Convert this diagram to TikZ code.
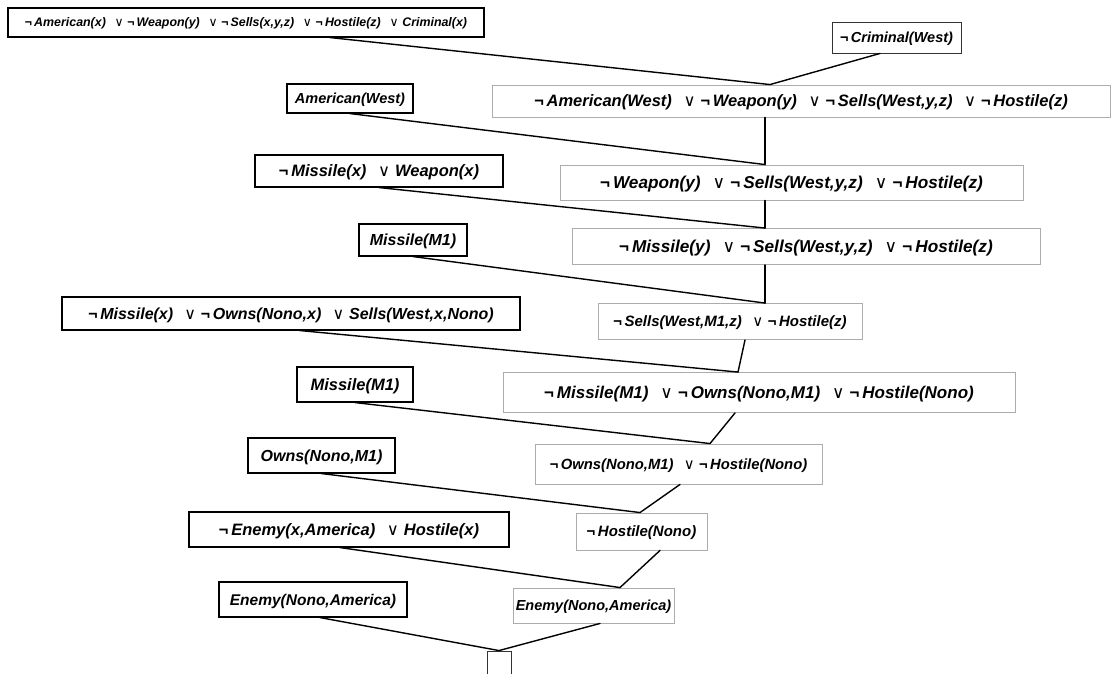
\documentclass[tikz,border=0pt]{standalone}
\usepackage{fontspec}
\setmainfont{Liberation Sans}
\newfontfamily\symfont{DejaVu Sans}
\usepackage{tikz}
\usetikzlibrary{positioning}
\newcommand{\notsym}{¬\,}
\newcommand{\orsym}{\hspace{0.7em}{\symfont\upshape\mdseries ∨}\hspace{0.3em}}

\begin{document}
\begin{tikzpicture}[
  x=1pt, y=-1pt,
  fs/.code={\pgfmathsetmacro\clht{0.9*#1}\pgfmathsetmacro\cldp{0.18*#1}%
    \tikzset{font=\fontsize{#1}{#1}\selectfont\bfseries\itshape,
             text height=\clht pt, text depth=\cldp pt}},
  clause/.style={draw, line width=1.1pt, inner sep=2pt},
  fact/.style={clause, draw=black},
  resolvent/.style={clause, draw=gray!65, line width=0.9pt},
  edge/.style={line width=1.4pt, line cap=round},
]
\useasboundingbox (0,0) rectangle (1115,673);

%% Left column: rules and facts
\node[fact, fs=12.4, minimum width=476, minimum height=29] (rule) at (246,22.5)
  {\notsym American(x)\orsym\notsym Weapon(y)\orsym\notsym Sells(x,y,z)\orsym\notsym Hostile(z)\orsym Criminal(x)};
\node[fact, fs=14.5, minimum width=126, minimum height=29] (amer) at (350,98.5) {American(West)};
\node[fact, fs=16.5, minimum width=248, minimum height=32] (weap) at (379,171) {\notsym Missile(x)\orsym Weapon(x)};
\node[fact, fs=16, minimum width=108, minimum height=32] (missA) at (413,240) {Missile(M1)};
\node[fact, fs=16, minimum width=458, minimum height=33] (sells) at (291,313.5)
  {\notsym Missile(x)\orsym\notsym Owns(Nono,x)\orsym Sells(West,x,Nono)};
\node[fact, fs=16.5, minimum width=116, minimum height=35] (missB) at (355,384.5) {Missile(M1)};
\node[fact, fs=16, minimum width=147, minimum height=35] (owns) at (321.5,455.5) {Owns(Nono,M1)};
\node[fact, fs=16.5, minimum width=320, minimum height=35] (enemyrule) at (349,529.5) {\notsym Enemy(x,America)\orsym Hostile(x)};
\node[fact, fs=15.5, minimum width=188, minimum height=35] (enemy) at (313,599.5) {Enemy(Nono,America)};

%% Goal
\node[resolvent, draw=black!80, fs=14.5, minimum width=129, minimum height=31] (goal) at (896.5,37.5) {\notsym Criminal(West)};

%% Right column: resolvents
\node[resolvent, fs=16.5, minimum width=618, minimum height=32] (res1) at (801,101)
  {\notsym American(West)\orsym\notsym Weapon(y)\orsym\notsym Sells(West,y,z)\orsym\notsym Hostile(z)};
\node[resolvent, fs=17.2, minimum width=463, minimum height=35] (res2) at (791.5,182.5)
  {\notsym Weapon(y)\orsym\notsym Sells(West,y,z)\orsym\notsym Hostile(z)};
\node[resolvent, fs=17.2, minimum width=468, minimum height=36] (res3) at (806,246.5)
  {\notsym Missile(y)\orsym\notsym Sells(West,y,z)\orsym\notsym Hostile(z)};
\node[resolvent, fs=15, minimum width=264, minimum height=36] (res4) at (730,321.5)
  {\notsym Sells(West,M1,z)\orsym\notsym Hostile(z)};
\node[resolvent, fs=17, minimum width=512, minimum height=40] (res5) at (759,392.5)
  {\notsym Missile(M1)\orsym\notsym Owns(Nono,M1)\orsym\notsym Hostile(Nono)};
\node[resolvent, fs=14.8, minimum width=287, minimum height=40] (res6) at (678.5,464)
  {\notsym Owns(Nono,M1)\orsym\notsym Hostile(Nono)};
\node[resolvent, fs=15, minimum width=131, minimum height=37] (res7) at (641.5,531.5) {\notsym Hostile(Nono)};
\node[resolvent, fs=14.5, minimum width=161, minimum height=35] (res8) at (593.5,605.5) {Enemy(Nono,America)};

%% Empty clause
\node[resolvent, draw=black!80, minimum width=24, minimum height=44] (empty) at (499,673) {};

%% Join points
\coordinate (j1) at ([xshift=-31]res1.north);
\coordinate (j2) at ([xshift=-26.5]res2.north);
\coordinate (j3) at ([xshift=-41]res3.north);
\coordinate (j4) at ([xshift=35]res4.north);
\coordinate (j5) at ([xshift=-21]res5.north);
\coordinate (j6) at ([xshift=31.5]res6.north);
\coordinate (j7) at ([xshift=-1.5]res7.north);
\coordinate (j8) at ([xshift=26.5]res8.north);
\coordinate (j9) at (empty.north);

%% Resolution steps
\draw[edge] ([xshift=84]rule.south) -- (j1);
\draw[edge] ([xshift=-16.5]goal.south) -- (j1);
\draw[edge] (amer.south) -- (j2);
\draw[edge] ([xshift=-36]res1.south) -- (j2);
\draw[edge] (weap.south) -- (j3);
\draw[edge] ([xshift=-26.5]res2.south) -- (j3);
\draw[edge] (missA.south) -- (j4);
\draw[edge] ([xshift=-41]res3.south) -- (j4);
\draw[edge] ([xshift=9]sells.south) -- (j5);
\draw[edge] ([xshift=15]res4.south) -- (j5);
\draw[edge] (missB.south) -- (j6);
\draw[edge] ([xshift=-24]res5.south) -- (j6);
\draw[edge] (owns.south) -- (j7);
\draw[edge] ([xshift=1.5]res6.south) -- (j7);
\draw[edge] ([xshift=-9]enemyrule.south) -- (j8);
\draw[edge] ([xshift=18.5]res7.south) -- (j8);
\draw[edge] ([xshift=7]enemy.south) -- (j9);
\draw[edge] ([xshift=6.5]res8.south) -- (j9);

\end{tikzpicture}
\end{document}
